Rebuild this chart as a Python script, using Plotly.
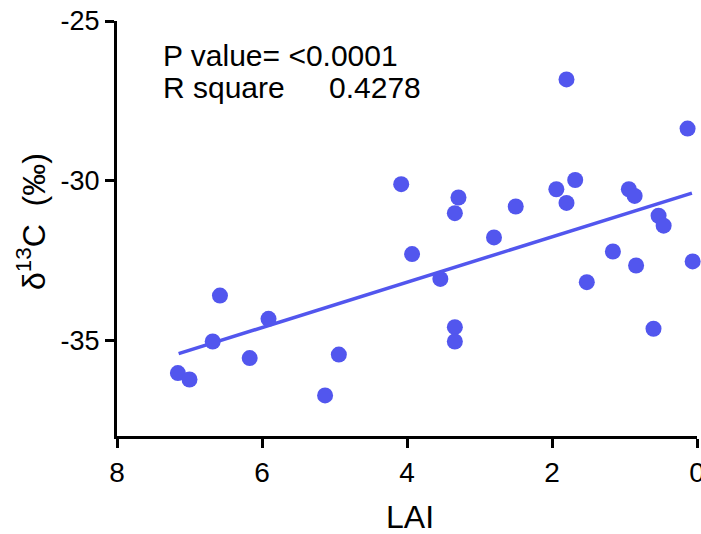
import plotly.graph_objects as go

# Data (LAI vs δ13C)
lai = [7.16, 7.00, 6.68, 6.58, 6.17, 5.91, 5.13, 4.94,
       4.08, 3.93, 3.54, 3.34, 3.29, 3.34, 3.34, 2.80, 2.50,
       1.94, 1.80, 1.80, 1.68, 1.52, 1.16, 0.94, 0.86, 0.84,
       0.60, 0.53, 0.46, 0.13, 0.06]
d13c = [-36.03, -36.23, -35.04, -33.60, -35.56, -34.33, -36.73, -35.45,
        -30.11, -32.30, -33.08, -31.02, -30.53, -34.59, -35.04, -31.78, -30.81,
        -30.27, -26.83, -30.70, -29.98, -33.18, -32.22, -30.27, -30.48, -32.66,
        -34.64, -31.10, -31.41, -28.37, -32.53]

# Regression line end points
fit_x = [7.15, 0.07]
fit_y = [-35.42, -30.39]

x_ticks = [8, 6, 4, 2, 0]
y_ticks = [-25, -30, -35]

blue = "rgb(82,86,238)"
font_family = "Liberation Sans, Arial, sans-serif"

fig = go.Figure()
fig.add_trace(go.Scatter(x=fit_x, y=fit_y, mode="lines", cliponaxis=False,
                         line=dict(color=blue, width=3.5), showlegend=False))
fig.add_trace(go.Scatter(x=lai, y=d13c, mode="markers", cliponaxis=False,
                         marker=dict(color=blue, size=16, line=dict(width=0)),
                         showlegend=False))

fig.update_layout(
    width=701, height=534,
    margin=dict(l=117, r=4, t=21, b=98, autoexpand=False),
    plot_bgcolor="white", paper_bgcolor="white",
    font=dict(family=font_family, color="black"),
    xaxis=dict(range=[8, 0], tickvals=x_ticks, ticktext=[str(v) for v in x_ticks],
               showgrid=False, zeroline=False, showline=True, linecolor="black",
               linewidth=3, ticks="outside", ticklen=9, tickwidth=3, tickcolor="black",
               ticklabeloverflow="allow", automargin=False,
               tickfont=dict(size=28, family=font_family, color="black")),
    yaxis=dict(range=[-38, -25], tickvals=y_ticks, ticktext=[str(v) for v in y_ticks],
               showgrid=False, zeroline=False, showline=True, linecolor="black",
               linewidth=3, ticks="outside", ticklen=9, tickwidth=3, tickcolor="black",
               ticklabeloverflow="allow", automargin=False,
               tickfont=dict(size=27, family=font_family, color="black")),
    annotations=[
        dict(text="P value= <0.0001", xref="paper", yref="paper", x=0.076, y=0.917,
             xanchor="left", yanchor="middle", showarrow=False,
             font=dict(size=30, family=font_family, color="black")),
        dict(text="R square", xref="paper", yref="paper", x=0.076, y=0.840,
             xanchor="left", yanchor="middle", showarrow=False,
             font=dict(size=30, family=font_family, color="black")),
        dict(text="0.4278", xref="paper", yref="paper", x=0.362, y=0.840,
             xanchor="left", yanchor="middle", showarrow=False,
             font=dict(size=30, family=font_family, color="black")),
        dict(text="LAI", xref="paper", yref="paper", x=0.505, y=-0.195,
             xanchor="center", yanchor="middle", showarrow=False,
             font=dict(size=32, family=font_family, color="black")),
        dict(text="δ<sup>13</sup>C\u00a0\u00a0(‰)", xref="paper", yref="paper",
             x=-0.148, y=0.516, xanchor="center", yanchor="middle", showarrow=False,
             textangle=-90, font=dict(size=32, family=font_family, color="black")),
    ],
)

fig.write_html("out.html")
